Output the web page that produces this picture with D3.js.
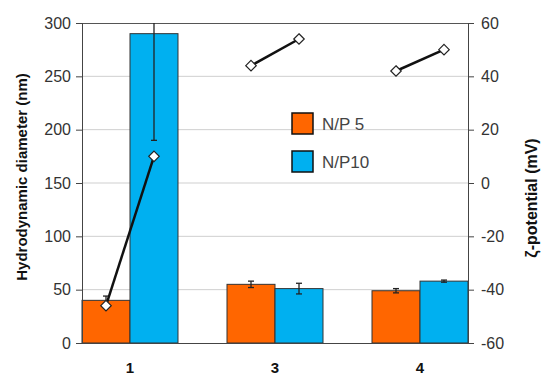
<!DOCTYPE html>
<html>
<head>
<meta charset="utf-8">
<script src="https://cdn.jsdelivr.net/npm/d3@7"></script>
<style>
  body { margin: 0; background: #fff; }
  text { font-family: "Liberation Sans", Arial, sans-serif; }
</style>
</head>
<body>
<div class="chart"></div>
<script>
// Chart data
var categories = ["1", "3", "4"];
var seriesNames = ["N/P 5", "N/P10"];
var diameterNP5 = [40, 55, 49];
var diameterNP10 = [290, 51, 58];
var diameterErrNP5 = [4, 3, 2];
var diameterErrNP10 = [100, 5, 1];
var zetaNP5 = [-46, 44, 42];
var zetaNP10 = [10, 54, 50];
var leftTicks = [0, 50, 100, 150, 200, 250, 300];
var rightTicks = [-60, -40, -20, 0, 20, 40, 60];

var colors = ["#FF6600", "#00B0F0"];

var svgWidth = 541;
var svgHeight = 375;
var margin = { top: 23, right: 73, bottom: 32, left: 82 };
var width = svgWidth - margin.left - margin.right;
var height = svgHeight - margin.top - margin.bottom;

var svg = d3.select(".chart")
  .append("svg")
  .attr("width", svgWidth)
  .attr("height", svgHeight);

var chart = svg.append("g")
  .attr("transform", "translate(" + margin.left + "," + margin.top + ")");

var x0 = d3.scaleBand()
  .domain(categories)
  .range([0, width])
  .paddingInner(0.338)
  .paddingOuter(0);

var x1 = d3.scaleBand()
  .domain(seriesNames)
  .range([0, x0.bandwidth()]);

var yLeft = d3.scaleLinear().domain([0, 300]).range([height, 0]);
var yRight = d3.scaleLinear().domain([-60, 60]).range([height, 0]);

// gridlines
chart.append("g")
  .selectAll("line")
  .data(leftTicks.slice(1, -1))
  .enter().append("line")
  .attr("x1", 0)
  .attr("x2", width)
  .attr("y1", function(d) { return yLeft(d); })
  .attr("y2", function(d) { return yLeft(d); })
  .attr("stroke", "#cfcfcf")
  .attr("stroke-width", 1);

// top border
chart.append("line")
  .attr("x1", 0).attr("x2", width)
  .attr("y1", 0.5).attr("y2", 0.5)
  .attr("stroke", "#555");

svg.append("defs").append("clipPath")
  .attr("id", "plotclip")
  .append("rect")
  .attr("width", width)
  .attr("height", height);

var rows = categories.map(function(c, i) {
  return {
    cat: c,
    bars: [
      { name: seriesNames[0], value: diameterNP5[i], err: diameterErrNP5[i], zeta: zetaNP5[i], color: colors[0] },
      { name: seriesNames[1], value: diameterNP10[i], err: diameterErrNP10[i], zeta: zetaNP10[i], color: colors[1] }
    ]
  };
});

var group = chart.append("g")
  .selectAll("g")
  .data(rows)
  .enter().append("g")
  .attr("transform", function(d) { return "translate(" + x0(d.cat) + ",0)"; });

group.selectAll("rect")
  .data(function(d) { return d.bars; })
  .enter().append("rect")
  .attr("x", function(d) { return x1(d.name); })
  .attr("y", function(d) { return yLeft(d.value); })
  .attr("width", x1.bandwidth())
  .attr("height", function(d) { return height - yLeft(d.value); })
  .attr("fill", function(d) { return d.color; })
  .attr("stroke", "#333")
  .attr("stroke-width", 1);

// error bars
var errs = group.append("g")
  .attr("clip-path", "url(#plotclip)")
  .selectAll("g")
  .data(function(d) { return d.bars; })
  .enter().append("g");

errs.append("line")
  .attr("x1", function(d) { return x1(d.name) + x1.bandwidth() / 2; })
  .attr("x2", function(d) { return x1(d.name) + x1.bandwidth() / 2; })
  .attr("y1", function(d) { return yLeft(d.value - d.err); })
  .attr("y2", function(d) { return yLeft(d.value + d.err); })
  .attr("stroke", "#222")
  .attr("stroke-width", 1.3);

errs.selectAll("line.cap")
  .data(function(d) { return [d.value - d.err, d.value + d.err].map(function(v) { return { name: d.name, v: v }; }); })
  .enter().append("line")
  .attr("class", "cap")
  .attr("x1", function(d) { return x1(d.name) + x1.bandwidth() / 2 - 3; })
  .attr("x2", function(d) { return x1(d.name) + x1.bandwidth() / 2 + 3; })
  .attr("y1", function(d) { return yLeft(d.v); })
  .attr("y2", function(d) { return yLeft(d.v); })
  .attr("stroke", "#222")
  .attr("stroke-width", 1.3);

// zeta potential lines and diamonds
var zetaLine = d3.line()
  .x(function(d) { return x1(d.name) + x1.bandwidth() / 2; })
  .y(function(d) { return yRight(d.zeta); });

group.append("path")
  .attr("d", function(d) { return zetaLine(d.bars); })
  .attr("fill", "none")
  .attr("stroke", "#111")
  .attr("stroke-width", 2.5);

group.selectAll("path.diamond")
  .data(function(d) { return d.bars; })
  .enter().append("path")
  .attr("class", "diamond")
  .attr("d", d3.symbol().type(d3.symbolDiamond2).size(70))
  .attr("transform", function(d) {
    return "translate(" + (x1(d.name) + x1.bandwidth() / 2) + "," + yRight(d.zeta) + ")";
  })
  .attr("fill", "#fff")
  .attr("stroke", "#222")
  .attr("stroke-width", 1.2);

// axes
var fmt = function(d) { return String(d); };
var leftAxis = d3.axisLeft(yLeft).tickValues(leftTicks).tickFormat(fmt).tickSize(6).tickPadding(5);
var rightAxis = d3.axisRight(yRight).tickValues(rightTicks).tickFormat(fmt).tickSize(6).tickPadding(7);

var gl = chart.append("g").call(leftAxis);
var gr = chart.append("g").attr("transform", "translate(" + width + ",0)").call(rightAxis);

[gl, gr].forEach(function(g) {
  g.select(".domain").attr("stroke", "#444").attr("d", function() {
    return "M0.5,0V" + height;
  });
  g.selectAll(".tick line").attr("stroke", "#444");
  g.selectAll(".tick text")
    .attr("fill", "#333")
    .style("font-size", "16px");
});

// bottom axis line
chart.append("line")
  .attr("x1", 0).attr("x2", width)
  .attr("y1", height + 0.5).attr("y2", height + 0.5)
  .attr("stroke", "#444");

// category labels
chart.append("g")
  .selectAll("text")
  .data(categories)
  .enter().append("text")
  .attr("x", function(d) { return x0(d) + x0.bandwidth() / 2; })
  .attr("y", height + 30)
  .attr("text-anchor", "middle")
  .style("font-size", "15px")
  .style("font-weight", "bold")
  .attr("fill", "#111")
  .text(function(d) { return d; });

// axis titles
svg.append("text")
  .attr("transform", "translate(27," + (margin.top + height / 2 - 6) + ") rotate(-90)")
  .attr("text-anchor", "middle")
  .style("font-size", "15px")
  .style("font-weight", "bold")
  .attr("fill", "#111")
  .text("Hydrodynamic diameter (nm)");

svg.append("text")
  .attr("transform", "translate(537,198) rotate(-90)")
  .attr("text-anchor", "middle")
  .style("font-size", "16px")
  .style("font-weight", "bold")
  .attr("fill", "#111")
  .text("ζ-potential (mV)");

// legend
var legend = svg.append("g")
  .selectAll("g")
  .data(seriesNames)
  .enter().append("g")
  .attr("transform", function(d, i) { return "translate(292," + (113 + i * 38) + ")"; });

legend.append("rect")
  .attr("width", 21)
  .attr("height", 21)
  .attr("fill", function(d, i) { return colors[i]; })
  .attr("stroke", "#111")
  .attr("stroke-width", 1.5);

legend.append("text")
  .attr("x", 30)
  .attr("y", 17)
  .style("font-size", "17px")
  .attr("fill", "#444")
  .text(function(d) { return d; });
</script>
</body>
</html>
